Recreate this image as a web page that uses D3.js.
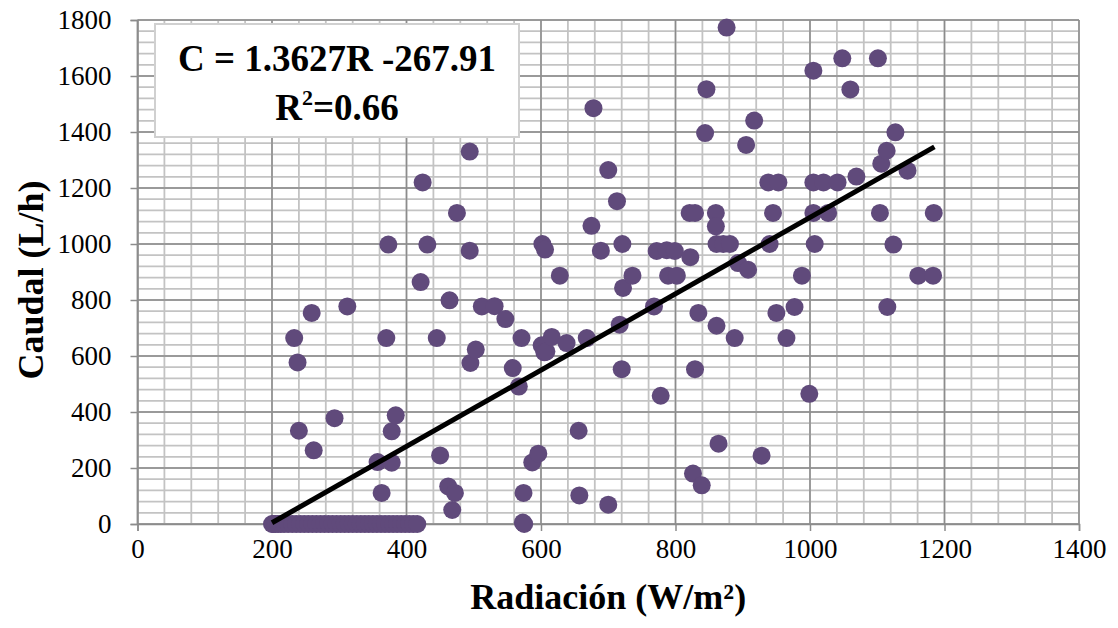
<!DOCTYPE html>
<html>
<head>
<meta charset="utf-8">
<script src="https://cdn.jsdelivr.net/npm/d3@7"></script>
<style>
  body { margin: 0; background: #fff; }
  text { font-family: "Liberation Serif", "Times New Roman", serif; }
</style>
</head>
<body>
<div id="chart"></div>
<script>
// radiation (W/m2) and flow (L/h)
let radiacion = [
  200, 202, 205, 209, 213, 218, 224, 230, 236, 242, 248, 254, 260, 266, 272, 278, 284, 290, 296, 302,
  308, 314, 320, 326, 332, 338, 344, 350, 356, 362, 368, 374, 380, 386, 392, 398, 404, 410, 416,
  233, 238, 240, 259, 262, 293, 312, 357, 363, 370, 373, 378, 378, 384,
  421, 424, 431, 445, 450, 462, 468, 472, 464, 475, 494, 494, 495, 503, 512, 531, 547,
  558, 567, 571, 573, 575, 574, 587, 596, 601, 605, 608, 616, 638, 668, 602, 606, 628, 656, 657,
  675, 678, 689, 700, 700, 713, 717, 720, 721, 722, 736, 768, 772, 778, 787, 799, 789, 802, 822, 821,
  829, 826, 829, 834, 839, 844, 846, 860, 860, 861, 871, 881, 861, 864, 876, 888, 893, 905, 908, 917,
  928, 938, 953, 940, 945, 950, 965, 977, 988, 999, 1005, 1005, 1020, 1041, 1005, 1007, 1027, 1048, 1060, 1069,
  1101, 1104, 1106, 1114, 1127, 1145, 1124, 1115, 1161, 1183, 1184
]
let caudal = [
  0, 0, 0, 0, 0, 0, 0, 0, 0, 0, 0, 0, 0, 0, 0, 0, 0, 0, 0, 0,
  0, 0, 0, 0, 0, 0, 0, 0, 0, 0, 0, 0, 0, 0, 0, 0, 0, 0, 0,
  664, 577, 333, 754, 263, 378, 777, 221, 111, 664, 998, 331, 219, 388,
  864, 1220, 998, 664, 245, 134, 50, 111, 799, 1111, 976, 1330, 575, 623, 777, 778, 732,
  557, 491, 664, 5, 0, 111, 220, 251, 638, 613, 616, 668, 646, 664, 1000, 980, 887, 333, 102,
  1065, 1485, 976, 1264, 69, 1153, 712, 553, 1000, 843, 887, 777, 975, 458, 978, 975, 887, 887, 953, 1111,
  1111, 180, 553, 754, 138, 1396, 1553, 1111, 1063, 1000, 1000, 1000, 708, 287, 1773, 664, 932, 1354, 908, 1441,
  244, 1220, 1220, 1000, 1111, 754, 664, 775, 887, 465, 1619, 1220, 1220, 1220, 1111, 1000, 1111, 1663, 1552, 1241,
  1663, 1111, 1287, 1333, 1399, 1262, 998, 775, 887, 887, 1111
]

let xTicks = [0, 200, 400, 600, 800, 1000, 1200, 1400]
let yTicks = [0, 200, 400, 600, 800, 1000, 1200, 1400, 1600, 1800]

// trend line from the fitted equation
let slope = 1.3627, intercept = -267.91
let trendRange = [200, 1185]

var width = 1118, height = 628
var margin = {top: 20, right: 39, bottom: 104, left: 137.5}

var svg = d3.select("#chart")
  .append("svg")
  .attr("width", width)
  .attr("height", height)

var x = d3.scaleLinear()
  .domain([0, 1400])
  .range([margin.left, width - margin.right])

var y = d3.scaleLinear()
  .domain([0, 1800])
  .range([height - margin.bottom, margin.top])

// minor gridlines every 40
let minor = d3.range(0, 1401, 40)
let minorY = d3.range(0, 1801, 40)

svg.append("g")
  .selectAll("line")
  .data(minor)
  .join("line")
  .attr("x1", d => x(d)).attr("x2", d => x(d))
  .attr("y1", y(0)).attr("y2", y(1800))
  .attr("stroke", "#c3c3c3")
  .attr("stroke-width", 1.8)

svg.append("g")
  .selectAll("line")
  .data(minorY)
  .join("line")
  .attr("x1", x(0)).attr("x2", x(1400))
  .attr("y1", d => y(d)).attr("y2", d => y(d))
  .attr("stroke", "#c3c3c3")
  .attr("stroke-width", 1.8)

// major gridlines
svg.append("g")
  .selectAll("line")
  .data(xTicks)
  .join("line")
  .attr("x1", d => x(d)).attr("x2", d => x(d))
  .attr("y1", y(0)).attr("y2", y(1800))
  .attr("stroke", "#8c8c8c")
  .attr("stroke-width", 1.5)

svg.append("g")
  .selectAll("line")
  .data(yTicks)
  .join("line")
  .attr("x1", x(0)).attr("x2", x(1400))
  .attr("y1", d => y(d)).attr("y2", d => y(d))
  .attr("stroke", "#8c8c8c")
  .attr("stroke-width", 1.5)

// axes
let xAxis = g => g
  .attr("transform", `translate(0,${y(0)})`)
  .call(d3.axisBottom(x).tickValues(xTicks).tickSize(7).tickPadding(8).tickFormat(d3.format("d")))
  .call(g => g.selectAll(".domain").attr("stroke", "#8c8c8c").attr("stroke-width", 1.5))
  .call(g => g.selectAll(".tick line").attr("stroke", "#8c8c8c").attr("stroke-width", 1.5))
  .call(g => g.selectAll(".tick text")
    .attr("font-family", "Liberation Serif")
    .attr("font-size", 27)
    .attr("fill", "#000"))

let yAxis = g => g
  .attr("transform", `translate(${x(0)},0)`)
  .call(d3.axisLeft(y).tickValues(yTicks).tickSize(7).tickPadding(19).tickFormat(d3.format("d")))
  .call(g => g.selectAll(".domain").attr("stroke", "#8c8c8c").attr("stroke-width", 1.5))
  .call(g => g.selectAll(".tick line").attr("stroke", "#8c8c8c").attr("stroke-width", 1.5))
  .call(g => g.selectAll(".tick text")
    .attr("font-family", "Liberation Serif")
    .attr("font-size", 27)
    .attr("fill", "#000"))

svg.append("g").call(xAxis)
svg.append("g").call(yAxis)

// points
let pts = radiacion.map((r, i) => ({r: r, c: caudal[i]}))

svg.append("g")
  .selectAll("circle")
  .data(pts)
  .join("circle")
  .attr("cx", d => x(d.r))
  .attr("cy", d => y(d.c))
  .attr("r", 9)
  .attr("fill", "#604a7b")

// trend line
svg.append("path")
  .attr("d", d3.line().x(d => x(d)).y(d => y(slope * d + intercept))(trendRange))
  .attr("stroke", "#000")
  .attr("stroke-width", 5)
  .attr("fill", "none")

// equation box
svg.append("rect")
  .attr("x", 155)
  .attr("y", 24)
  .attr("width", 364)
  .attr("height", 113)
  .attr("fill", "#fff")
  .attr("stroke", "#d0d0d0")
  .attr("stroke-width", 2)

svg.append("text")
  .attr("x", 337)
  .attr("y", 71)
  .attr("text-anchor", "middle")
  .attr("font-weight", "bold")
  .attr("font-size", 37)
  .text("C = 1.3627R -267.91")

let r2 = svg.append("text")
  .attr("x", 337)
  .attr("y", 120)
  .attr("text-anchor", "middle")
  .attr("font-weight", "bold")
  .attr("font-size", 37)
r2.append("tspan").text("R")
r2.append("tspan").attr("font-size", 22).attr("dy", -15).text("2")
r2.append("tspan").attr("dy", 15).text("=0.66")

// axis titles
svg.append("text")
  .attr("x", (x(0) + x(1400)) / 2)
  .attr("y", 609)
  .attr("text-anchor", "middle")
  .attr("font-weight", "bold")
  .attr("font-size", 36)
  .text("Radiación (W/m²)")

svg.append("text")
  .attr("transform", "translate(43," + ((y(0) + y(1800)) / 2 + 8) + ") rotate(-90)")
  .attr("text-anchor", "middle")
  .attr("font-weight", "bold")
  .attr("font-size", 36)
  .text("Caudal (L/h)")
</script>
</body>
</html>
